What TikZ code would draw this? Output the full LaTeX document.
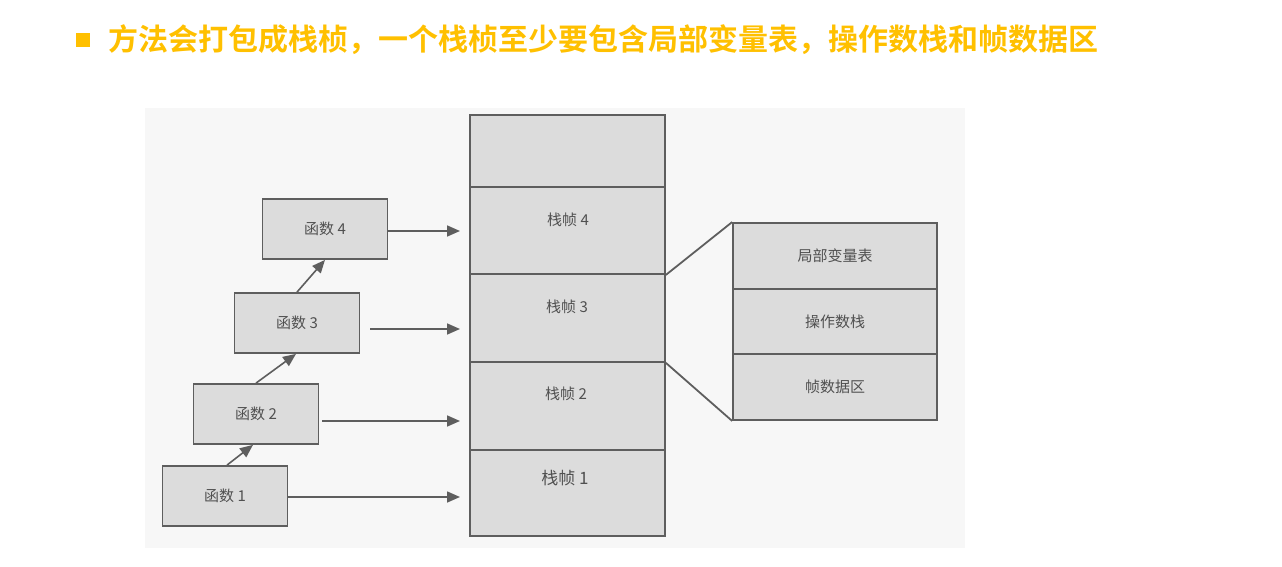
\documentclass[tikz,border=0pt]{standalone}
\usepackage{fontspec}
\newfontfamily\cjk{Noto Sans CJK SC}
\newfontfamily\cjkb{Noto Sans CJK SC Bold}
\usetikzlibrary{arrows.meta}
\definecolor{hdr}{HTML}{FFC000}
\definecolor{ln}{HTML}{5E5E5E}
\definecolor{bx}{HTML}{DCDCDC}
\definecolor{tx}{HTML}{505050}
\definecolor{bg}{HTML}{F7F7F7}
\tikzset{
  fbox/.style={draw=ln, fill=bx, line width=1.8pt, minimum width=125pt, minimum height=60pt, inner sep=0pt, font=\cjk\fontsize{15}{17}\selectfont, text=tx},
  cell/.style={draw=ln, fill=bx, line width=1.8pt, minimum width=195pt, inner sep=0pt},
  rcell/.style={draw=ln, fill=bx, line width=1.8pt, minimum width=204pt, inner sep=0pt, font=\cjk\fontsize{15}{17}\selectfont, text=tx},
  lbl/.style={font=\cjk\fontsize{15}{17}\selectfont, text=tx, inner sep=0pt},
  arr/.style={draw=ln, line width=1.6pt, -{Triangle[length=13pt,width=11pt]}},
  conn/.style={draw=ln, line width=1.8pt}
}
\begin{document}
\begin{tikzpicture}[x=1pt,y=-1pt]
\useasboundingbox (0,0) rectangle (1282,567);
\fill[white] (0,0) rectangle (1282,567);
\fill[bg] (145,108) rectangle (965,548);
% header
\node[fill=hdr, minimum size=14pt, inner sep=0pt] (bul) at (83,40) {};
\node[anchor=west, inner sep=0pt, text=hdr, font=\cjkb\fontsize{30}{33}\selectfont] (title) at (108,40) {方法会打包成栈桢，一个栈桢至少要包含局部变量表，操作数栈和帧数据区};
% stack
\node[cell, minimum height=72pt] (c5) at (567.5,151) {};
\node[cell, minimum height=87pt] (c4) at (567.5,230.5) {};
\node[cell, minimum height=88pt] (c3) at (567.5,318) {};
\node[cell, minimum height=88pt] (c2) at (567.5,406) {};
\node[cell, minimum height=86pt] (c1) at (567.5,493) {};
\node[lbl] (l4) at (568,220) {栈帧 4};
\node[lbl] (l3) at (567,307) {栈帧 3};
\node[lbl] (l2) at (566,394) {栈帧 2};
\node[lbl, font=\cjk\fontsize{17}{19}\selectfont] (l1) at (565,478) {栈帧 1};
% functions
\node[fbox] (f4) at (325,229) {函数 4};
\node[fbox] (f3) at (297,323) {函数 3};
\node[fbox] (f2) at (256,414) {函数 2};
\node[fbox] (f1) at (225,496) {函数 1};
% right box
\node[rcell, minimum height=66pt] (r1) at (835,256) {局部变量表};
\node[rcell, minimum height=65pt] (r2) at (835,321.5) {操作数栈};
\node[rcell, minimum height=66pt] (r3) at (835,387) {帧数据区};
% coordinates for arrow ends
\coordinate (e4) at (460,231);
\coordinate (s3) at (370,329);
\coordinate (e3) at (460,329);
\coordinate (s2) at (322,421);
\coordinate (e2) at (460,421);
\coordinate (e1) at (460,497);
% horizontal arrows
\draw[arr] (f4.east |- e4) -- (e4);
\draw[arr] (s3) -- (e3);
\draw[arr] (s2) -- (e2);
\draw[arr] (f1.east |- e1) -- (e1);
% diagonal arrows
\draw[arr] ([xshift=2pt]f1.north) -- ([xshift=-3pt]f2.south);
\draw[arr] (f2.north) -- ([xshift=-1pt]f3.south);
\draw[arr] (f3.north) -- (f4.south);
% connectors
\draw[conn] (c4.south east) -- (r1.north west);
\draw[conn] (c3.south east) -- (r3.south west);
\end{tikzpicture}
\end{document}
